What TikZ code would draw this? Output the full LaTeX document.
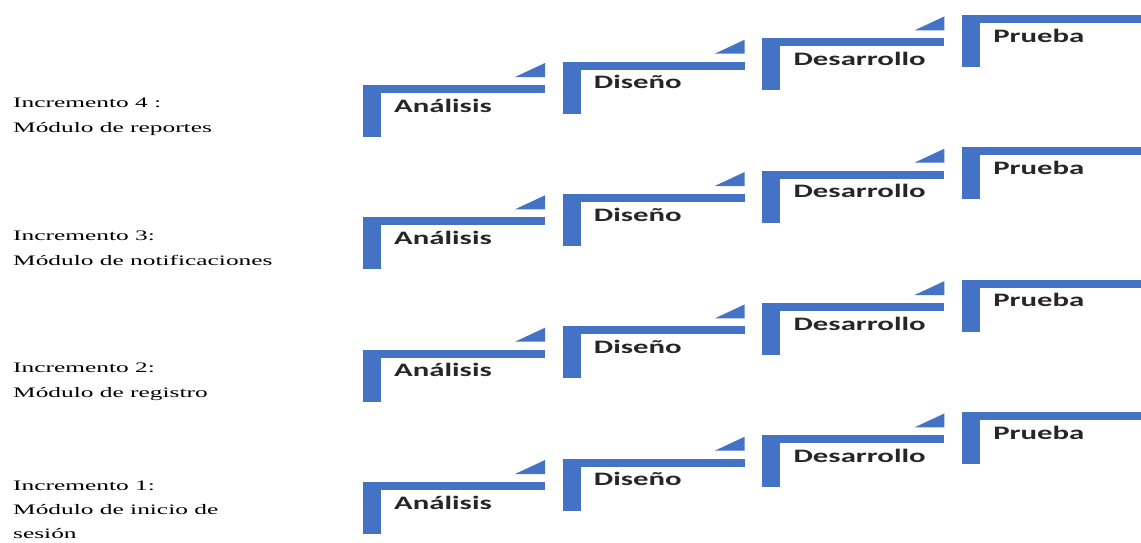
\documentclass[tikz,border=0pt]{standalone}
\usepackage{fontspec}
\setmainfont{Liberation Serif}
\newfontfamily\stepfont{Carlito}
\definecolor{stepblue}{RGB}{68,114,196}
\definecolor{steptext}{RGB}{38,38,38}
\begin{document}
\begin{tikzpicture}[x=1pt,y=-1pt]
\useasboundingbox (0,0) rectangle (1141,542);
\tikzset{
  bar/.style={fill=stepblue, draw=none},
  steplabel/.style={anchor=base west, inner sep=0pt, font=\stepfont\bfseries\fontsize{19}{19}\selectfont, text=steptext},
  inclabel/.style={anchor=base west, inner sep=0pt, font=\fontsize{14.5}{14.5}\selectfont, text=black}
}
\foreach \r/\y in {4/85, 3/217.3, 2/349.7, 1/482} {
  \foreach \i/\name/\last in {0/Análisis/0, 1/Diseño/0, 2/Desarrollo/0, 3/Prueba/1} {
    \pgfmathsetmacro\X{363+199.7*\i}
    \pgfmathsetmacro\Y{\y-23.3*\i}
    \fill[bar] (\X,\Y) rectangle ++(182,8);
    \fill[bar] (\X,\Y) rectangle ++(18,52);
    \ifnum\last=0 \fill[bar] (\X+152,\Y-8) -- (\X+182,\Y-22) -- (\X+182,\Y-8) -- cycle; \fi
    \node[steplabel] (s\r-\i) at (\X+31,\Y+27) {\scalebox{1.62}[1]{\name}};
  }
}
\node[inclabel] (i4a) at (13,107) {\scalebox{1.75}[1]{Incremento 4 :}};
\node[inclabel] (i4b) at (13,132) {\scalebox{1.75}[1]{Módulo de reportes}};
\node[inclabel] (i3a) at (13,240) {\scalebox{1.75}[1]{Incremento 3:}};
\node[inclabel] (i3b) at (13,265) {\scalebox{1.75}[1]{Módulo de notificaciones}};
\node[inclabel] (i2a) at (13,372) {\scalebox{1.75}[1]{Incremento 2:}};
\node[inclabel] (i2b) at (13,397) {\scalebox{1.75}[1]{Módulo de registro}};
\node[inclabel] (i1a) at (13,490) {\scalebox{1.75}[1]{Incremento 1:}};
\node[inclabel] (i1b) at (13,514) {\scalebox{1.75}[1]{Módulo de inicio de}};
\node[inclabel] (i1c) at (13,538) {\scalebox{1.75}[1]{sesión}};
\end{tikzpicture}
\end{document}
